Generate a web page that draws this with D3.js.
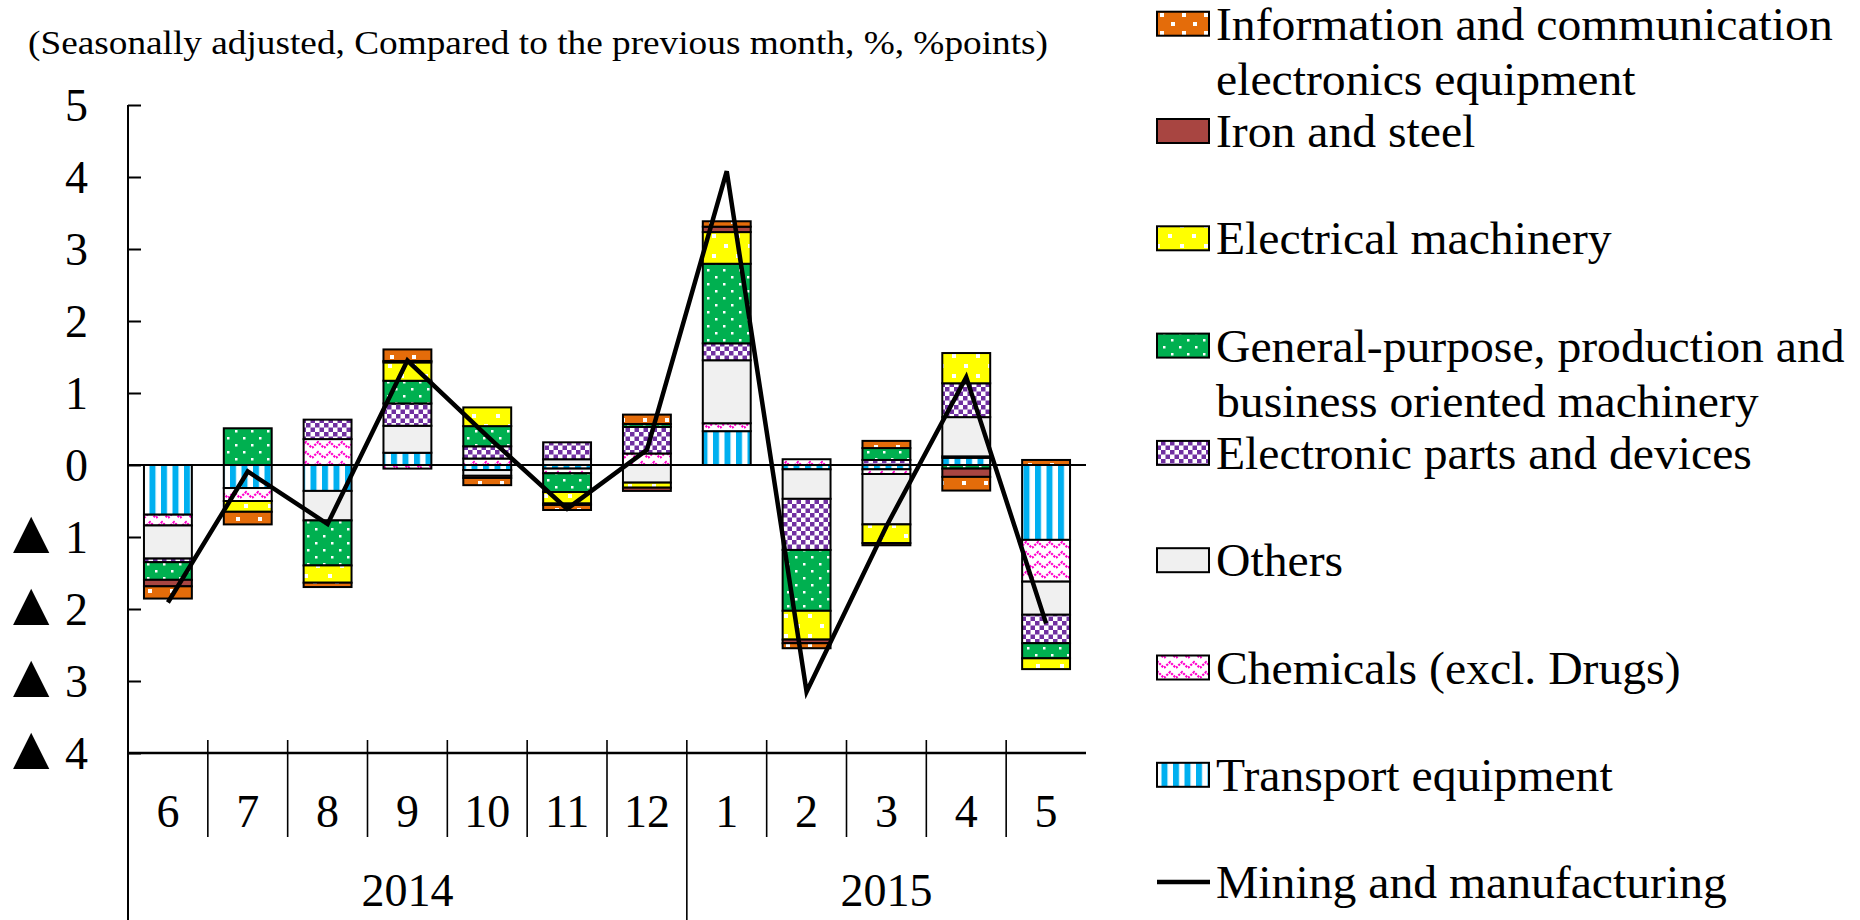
<!DOCTYPE html>
<html><head><meta charset="utf-8">
<script src="https://cdn.jsdelivr.net/npm/d3@7"></script>
<style>
body{margin:0;background:#fff}
svg{display:block}
text{font-family:"Liberation Serif","Times New Roman",serif;fill:#000}
</style>
</head><body>
<svg id="chart" width="1860" height="920"></svg>
<script>
// ---------------- data ----------------
const months = ["6","7","8","9","10","11","12","1","2","3","4","5"];
const monthYears = ["2014","2014","2014","2014","2014","2014","2014","2015","2015","2015","2015","2015"];
const yearLabels = ["2014","2015"];

const transport  = [-0.69,-0.32,-0.36, 0.17,-0.07,-0.05, 0.00, 0.47,-0.06,-0.06, 0.10,-1.04];
const chemicals  = [-0.15,-0.18, 0.36,-0.05, 0.09,-0.065,0.16, 0.11, 0.08,-0.065,0.02,-0.58];
const others     = [-0.46, 0.00,-0.41, 0.375,-0.08,0.08,-0.245,0.875,-0.41,-0.70, 0.545,-0.46];
const electronic = [-0.05, 0.00, 0.27, 0.31, 0.17, 0.235,0.37, 0.235,-0.71, 0.07, 0.47,-0.395];
const general    = [-0.245,0.51,-0.625,0.315,0.28,-0.26, 0.04, 1.105,-0.845,0.165,-0.05,-0.21];
const electrical = [ 0.00,-0.15,-0.24, 0.255,0.26,-0.16,-0.07, 0.44,-0.40,-0.26, 0.42,-0.15];
const ironSteel  = [-0.09, 0.00, 0.00, 0.02,-0.03,-0.02,-0.045,0.075,-0.05,-0.03,-0.115,0.00];
const infoComm   = [-0.17,-0.175,-0.06,0.16,-0.10,-0.07, 0.13, 0.075,-0.07, 0.10,-0.19, 0.07];
const mining     = [-1.91,-0.09,-0.82, 1.45, 0.40,-0.61, 0.21, 4.08,-3.15,-0.85, 1.22,-2.20];

const yTicks      = [5,4,3,2,1,0,-1,-2,-3,-4];
const yTickLabels = ["5","4","3","2","1","0","▲1","▲2","▲3","▲4"];

const titleText = "(Seasonally adjusted, Compared to the previous month, %, %points)";

// stacking order (from zero outward)
const stackKeys = ["transport","chemicals","others","electronic","general","electrical","ironSteel","infoComm"];
const seriesValues = {transport, chemicals, others, electronic, general, electrical, ironSteel, infoComm};

// legend (top to bottom)
const legendKeys   = ["infoComm","ironSteel","electrical","general","electronic","others","chemicals","transport","mining"];
const legendLabels = [
  ["Information and communication","electronics equipment"],
  ["Iron and steel"],
  ["Electrical machinery"],
  ["General-purpose, production and","business oriented machinery"],
  ["Electronic parts and devices"],
  ["Others"],
  ["Chemicals (excl. Drugs)"],
  ["Transport equipment"],
  ["Mining and manufacturing"]
];

// ---------------- drawing ----------------
const svg = d3.select("#chart");
const defs = svg.append("defs");

function pat(id, w, h, build){
  const p = defs.append("pattern").attr("id", id).attr("patternUnits","userSpaceOnUse")
    .attr("width", w).attr("height", h);
  build(p);
}
pat("p-transport", 11.5, 10, p => {
  p.append("rect").attr("width",11.5).attr("height",10).attr("fill","#fff");
  p.append("rect").attr("width",6).attr("height",10).attr("fill","#00B0F0");
});
pat("p-chemicals", 12, 10, p => {
  p.append("rect").attr("width",12).attr("height",10).attr("fill","#fff");
  p.append("path").attr("d","M0,8 L6,2 L12,8").attr("fill","none")
   .attr("stroke","#FF00CC").attr("stroke-width",2.2).attr("stroke-dasharray","2.2,1.2");
});
pat("p-others", 10, 10, p => {
  p.append("rect").attr("width",10).attr("height",10).attr("fill","#F0F0F0");
});
pat("p-electronic", 9, 9, p => {
  p.append("rect").attr("width",9).attr("height",9).attr("fill","#fff");
  p.append("rect").attr("width",4.5).attr("height",4.5).attr("fill","#7030A0");
  p.append("rect").attr("x",4.5).attr("y",4.5).attr("width",4.5).attr("height",4.5).attr("fill","#7030A0");
});
pat("p-general", 16, 14, p => {
  p.append("rect").attr("width",16).attr("height",14).attr("fill","#00B050");
  p.append("rect").attr("x",3).attr("y",3).attr("width",2.5).attr("height",2.5).attr("fill","#fff");
  p.append("rect").attr("x",11).attr("y",10).attr("width",2.5).attr("height",2.5).attr("fill","#fff");
});
pat("p-electrical", 24, 20, p => {
  p.append("rect").attr("width",24).attr("height",20).attr("fill","#FFFF00");
  p.append("rect").attr("x",4).attr("y",4).attr("width",4).attr("height",4).attr("fill","#fff");
  p.append("rect").attr("x",16).attr("y",14).attr("width",4).attr("height",4).attr("fill","#fff");
});
pat("p-ironSteel", 10, 10, p => {
  p.append("rect").attr("width",10).attr("height",10).attr("fill","#A84541");
});
pat("p-infoComm", 22, 18, p => {
  p.append("rect").attr("width",22).attr("height",18).attr("fill","#E46C0A");
  p.append("rect").attr("x",5).attr("y",4).attr("width",4).attr("height",4).attr("fill","#fff");
  p.append("rect").attr("x",16).attr("y",13).attr("width",4).attr("height",4).attr("fill","#fff");
});

const x = d3.scaleBand().domain(d3.range(months.length)).range([128, 1086])
  .paddingInner(0.4).paddingOuter(0.2);
const xCat = d3.scaleBand().domain(d3.range(months.length)).range([128, 1086]).padding(0);
const y = d3.scaleLinear().domain([-4, 5]).range([753, 105]);

// table for stacking
const table = months.map((m, i) => {
  const row = {i};
  stackKeys.forEach(k => row[k] = seriesValues[k][i]);
  return row;
});
const stacked = d3.stack().keys(stackKeys).offset(d3.stackOffsetDiverging)(table);

const gBars = svg.append("g");
stacked.forEach(layer => {
  gBars.append("g").selectAll("rect").data(layer.filter(d => Math.abs(d[1]-d[0]) > 1e-9))
    .join("rect")
    .attr("x", d => x(d.data.i))
    .attr("width", x.bandwidth())
    .attr("y", d => y(Math.max(d[0], d[1])))
    .attr("height", d => Math.abs(y(d[0]) - y(d[1])))
    .attr("fill", `url(#p-${layer.key})`)
    .attr("stroke", "#000").attr("stroke-width", 2);
});

// zero line
svg.append("line").attr("x1", 128).attr("x2", 1086).attr("y1", y(0)).attr("y2", y(0))
  .attr("stroke", "#000").attr("stroke-width", 2);

// y axis
const yAxis = d3.axisRight(y).tickValues(yTicks).tickSize(13).tickFormat("");
const gy = svg.append("g").attr("transform", "translate(128,0)").call(yAxis);
gy.select(".domain").remove();
gy.selectAll(".tick line").attr("stroke", "#000").attr("stroke-width", 2);
svg.append("line").attr("x1", 128).attr("x2", 128).attr("y1", y(5)).attr("y2", 920)
  .attr("stroke", "#000").attr("stroke-width", 2);

// y labels
yTicks.forEach((v, k) => {
  const lab = yTickLabels[k];
  const t = svg.append("text").attr("y", y(v) + 15.5).attr("font-size", 46);
  if (lab.startsWith("▲")) {
    t.append("tspan").attr("x", 0.5).attr("text-anchor", "start")
      .attr("font-size", 62).text("▲");
    t.append("tspan").attr("x", 88).attr("text-anchor", "end").text(lab.slice(1));
  } else {
    t.attr("x", 88).attr("text-anchor", "end").text(lab);
  }
});

// x axis line
svg.append("line").attr("x1", 128).attr("x2", 1086).attr("y1", y(-4)).attr("y2", y(-4))
  .attr("stroke", "#000").attr("stroke-width", 2.5);

// month separators
d3.range(1, months.length).forEach(i => {
  const xx = xCat(i);
  const yearBoundary = monthYears[i] !== monthYears[i-1];
  svg.append("line").attr("x1", xx).attr("x2", xx)
    .attr("y1", y(-4) - 13).attr("y2", yearBoundary ? 920 : 837)
    .attr("stroke", "#000").attr("stroke-width", 1.6);
});
// month labels
months.forEach((m, i) => {
  svg.append("text").attr("x", xCat(i) + xCat.bandwidth()/2).attr("y", 827)
    .attr("text-anchor", "middle").attr("font-size", 46).text(m);
});
// year labels
yearLabels.forEach(yr => {
  const idx = d3.range(months.length).filter(i => monthYears[i] === yr);
  const x0 = xCat(idx[0]), x1 = xCat(idx[idx.length-1]) + xCat.bandwidth();
  svg.append("text").attr("x", (x0 + x1)/2).attr("y", 906)
    .attr("text-anchor", "middle").attr("font-size", 46).text(yr);
});

// mining line
const line = d3.line().x((d, i) => x(i) + x.bandwidth()/2).y(d => y(d));
svg.append("path").datum(mining).attr("d", line).attr("fill", "none")
  .attr("stroke", "#000").attr("stroke-width", 4.5).attr("stroke-linejoin", "miter");

// title
svg.append("text").attr("x", 28).attr("y", 54).attr("font-size", 34)
  .attr("textLength", 1020).attr("lengthAdjust", "spacingAndGlyphs").text(titleText);

// legend
const legY0 = 23.7, legStep = 107.3;
legendKeys.forEach((k, j) => {
  const cy = legY0 + j * legStep;
  if (k === "mining") {
    svg.append("line").attr("x1", 1157).attr("x2", 1210).attr("y1", cy).attr("y2", cy)
      .attr("stroke", "#000").attr("stroke-width", 4.5);
  } else {
    svg.append("rect").attr("x", 1157).attr("y", cy - 12).attr("width", 52).attr("height", 24)
      .attr("fill", `url(#p-${k})`).attr("stroke", "#000").attr("stroke-width", 2);
  }
  legendLabels[j].forEach((ln, li) => {
    const t = svg.append("text").attr("x", 1216).attr("y", cy + 16 + li * 55.7)
      .attr("font-size", 46).text(ln);
    const w = t.node().getComputedTextLength();
    t.attr("textLength", w * 1.036).attr("lengthAdjust", "spacingAndGlyphs");
  });
});
</script>
</body></html>
